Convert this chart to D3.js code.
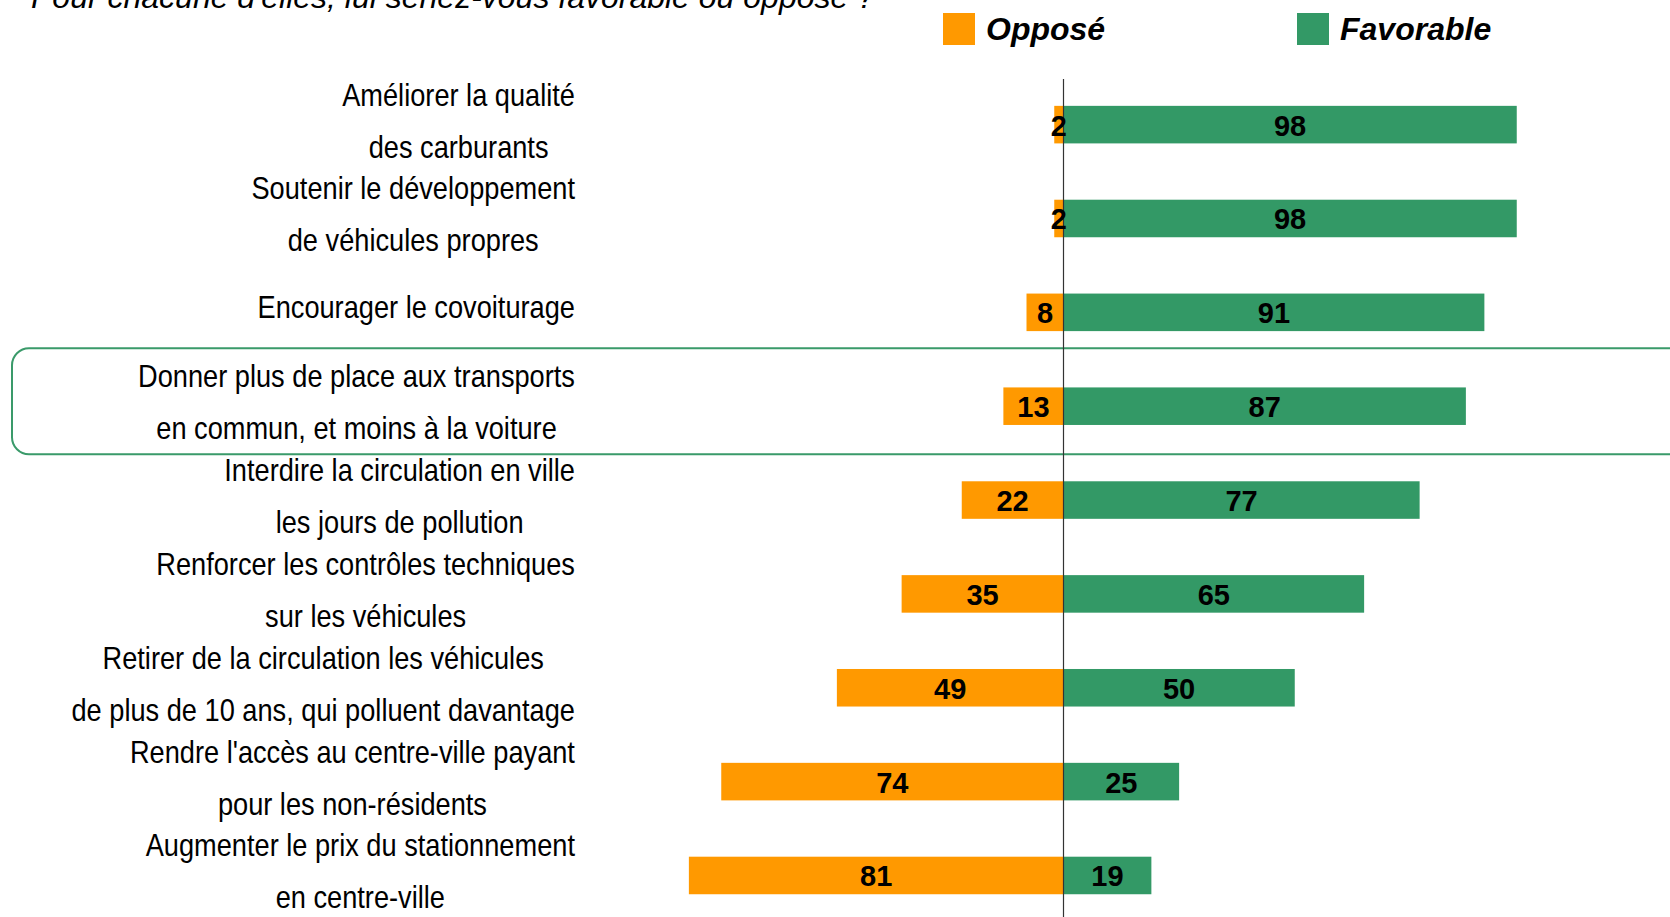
<!DOCTYPE html>
<html>
<head>
<meta charset="utf-8">
<script src="https://cdn.jsdelivr.net/npm/d3@7"></script>
<style>
  body { margin: 0; background: #fff; overflow: hidden; }
  .lbl { font-family: "Liberation Sans", Arial, sans-serif; font-size: 32px; fill: #000; }
  .val { font-family: "Liberation Sans", Arial, sans-serif; font-size: 29px; font-weight: bold; fill: #000; }
  .leg { font-family: "Liberation Sans", Arial, sans-serif; font-size: 32px; font-weight: bold; font-style: italic; fill: #000; }
  .title { font-family: "Liberation Sans", Arial, sans-serif; font-size: 32px; font-style: italic; fill: #000; }
</style>
</head>
<body>
<svg width="1670" height="917"></svg>
<script>
let categories = [
	"Améliorer la qualité\ndes carburants",
	"Soutenir le développement\nde véhicules propres",
	"Encourager le covoiturage",
	"Donner plus de place aux transports\nen commun, et moins à la voiture",
	"Interdire la circulation en ville\nles jours de pollution",
	"Renforcer les contrôles techniques\nsur les véhicules",
	"Retirer de la circulation les véhicules\nde plus de 10 ans, qui polluent davantage",
	"Rendre l'accès au centre-ville payant\npour les non-résidents",
	"Augmenter le prix du stationnement\nen centre-ville"
];
let oppose = [2, 2, 8, 13, 22, 35, 49, 74, 81];
let favorable = [98, 98, 91, 87, 77, 65, 50, 25, 19];
let seriesNames = ["Opposé", "Favorable"];
let colors = ["#ff9900", "#339966"];
let highlighted = 3;

let svg = d3.select("svg");

let x = d3.scaleLinear().domain([-100, 100]).range([601, 1526]);
let y = d3.scaleBand().domain(d3.range(categories.length))
	.range([77.7, 922.4]).paddingInner(0.6).paddingOuter(0.3);
let bw = y.bandwidth();
let mid = function(i){ return y(i) + bw / 2; };

// title, mostly cut off at the top
svg.append("text").attr("class", "title")
	.attr("x", 31).attr("y", 8)
	.text("Pour chacune d'elles, lui seriez-vous favorable ou opposé ?");

// legend
let legX = [943, 1297];
seriesNames.forEach(function(name, k){
	svg.append("rect").attr("x", legX[k]).attr("y", 13)
		.attr("width", 32).attr("height", 32).attr("fill", colors[k]);
	svg.append("text").attr("class", "leg")
		.attr("x", legX[k] + 43).attr("y", 40).text(name);
});

// highlight frame
svg.append("rect")
	.attr("x", 12).attr("y", mid(highlighted) - 58)
	.attr("width", 1720).attr("height", 106)
	.attr("rx", 17).attr("ry", 17)
	.attr("fill", "none").attr("stroke", "#3a9a6a").attr("stroke-width", 2);

let rows = d3.range(categories.length);

// bars
svg.selectAll(".opp").data(rows).enter().append("rect")
	.attr("class", "opp")
	.attr("x", function(i){ return x(-oppose[i]); })
	.attr("y", function(i){ return y(i); })
	.attr("width", function(i){ return x(0) - x(-oppose[i]); })
	.attr("height", bw)
	.attr("fill", colors[0]);

svg.selectAll(".fav").data(rows).enter().append("rect")
	.attr("class", "fav")
	.attr("x", x(0))
	.attr("y", function(i){ return y(i); })
	.attr("width", function(i){ return x(favorable[i]) - x(0); })
	.attr("height", bw)
	.attr("fill", colors[1]);

// centre axis
svg.append("line")
	.attr("x1", x(0)).attr("x2", x(0))
	.attr("y1", 79).attr("y2", 917)
	.attr("stroke", "#333").attr("stroke-width", 1.2);

// values
svg.selectAll(".vopp").data(rows).enter().append("text")
	.attr("class", "val").attr("text-anchor", "middle")
	.attr("x", function(i){ return (x(-oppose[i]) + x(0)) / 2; })
	.attr("y", function(i){ return mid(i) + 11; })
	.text(function(i){ return oppose[i]; });

svg.selectAll(".vfav").data(rows).enter().append("text")
	.attr("class", "val").attr("text-anchor", "middle")
	.attr("x", function(i){ return (x(favorable[i]) + x(0)) / 2; })
	.attr("y", function(i){ return mid(i) + 11; })
	.text(function(i){ return favorable[i]; });

// category labels: condensed, block right-aligned, lines centred inside it
let rightEdge = 575, squeeze = 0.85;
rows.forEach(function(i){
	let lines = categories[i].split("\n");
	let items = lines.map(function(t, k){
		let base = lines.length === 1 ? mid(i) + 6 : mid(i) + 7 + (k === 0 ? -26 : 26);
		let g = svg.append("g");
		let txt = g.append("text").attr("class", "lbl")
			.attr("text-anchor", "middle").text(t);
		return { g: g, base: base, w: txt.node().getComputedTextLength() * squeeze };
	});
	let w = d3.max(items, function(d){ return d.w; });
	items.forEach(function(d){
		d.g.attr("transform", "translate(" + (rightEdge - w / 2) + "," + d.base + ") scale(" + squeeze + ",1)");
	});
});
</script>
</body>
</html>
